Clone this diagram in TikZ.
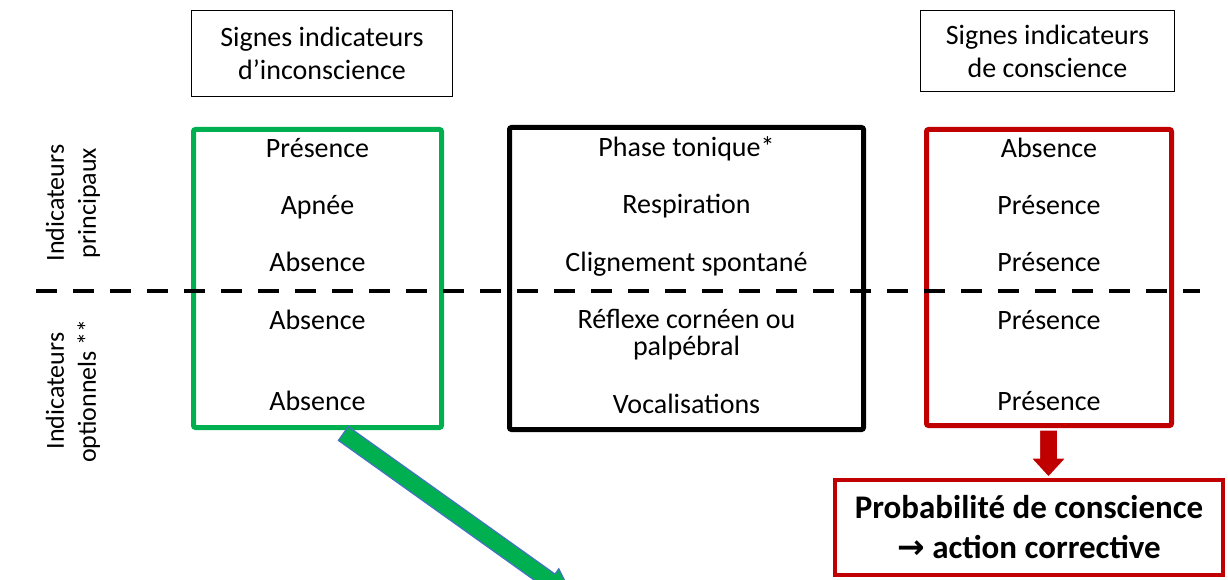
\documentclass[tikz,border=0pt]{standalone}
\usepackage{fontspec}
\setmainfont{Carlito}
\newfontfamily\arrowFont{DejaVu Sans}
\usetikzlibrary{calc}
\definecolor{consGreen}{RGB}{0,176,80}
\definecolor{consRed}{RGB}{192,0,0}
\definecolor{arrowEdge}{RGB}{68,114,196}
\newcommand{\cellFont}{\fontsize{28}{33}\selectfont}
\newcommand{\sideFont}{\fontsize{26}{32}\selectfont}
\newcommand{\resultFont}{\fontsize{33}{40}\selectfont\bfseries}
\newcommand{\boxMid}{278.5}
\newcommand{\shaftHalf}{9}
\tikzset{
  cell/.style={font=\cellFont, text height=20pt, text depth=6pt, inner sep=0pt, align=center},
  headbox/.style={draw, line width=1.3pt, font=\cellFont, align=center, inner sep=0pt},
  signbox/.style={draw, line width=5pt, rounded corners=2pt, inner sep=0pt},
  sidelabel/.style={font=\sideFont, align=center, rotate=90, inner sep=0pt}
}
\begin{document}
\begin{tikzpicture}[x=1pt, y=-1pt]
\useasboundingbox (0,0) rectangle (1228,580);
% header boxes
\node (headLeft) [headbox, minimum width=261, minimum height=86] at (322,53.5) {Signes indicateurs\\d’inconscience};
\node (headRight) [headbox, minimum width=254, minimum height=81] at (1047.5,51) {Signes indicateurs\\de conscience};
% three columns
\node (greenBox) [signbox, draw=consGreen, minimum width=248, minimum height=298] at (317.5,\boxMid) {};
\node (blackBox) [signbox, draw=black, minimum width=354, minimum height=302] at (686.5,\boxMid) {};
\node (redBox) [signbox, draw=consRed, minimum width=245, minimum height=296] at (1049,277.5) {};
% side labels
\node (mainLabel) [sidelabel] at (73,203) {Indicateurs\\principaux};
\node (optLabel) [sidelabel] at (73,391) {Indicateurs\\optionnels **};
% separator
\coordinate (dashStart) at (36,291);
\coordinate (dashEnd) at (1200,291);
\draw [line width=4.5pt, dash pattern=on 21pt off 16pt] (dashStart) -- (dashEnd);
% unconscious column
\node (gPresence) [cell] at (317.5,150.5) {Présence};
\node (gApnee) [cell] at (317.5,207.5) {Apnée};
\node (gAbsA) [cell] at (317.5,264.5) {Absence};
\node (gAbsB) [cell] at (317.5,322.5) {Absence};
\node (gAbsC) [cell] at (317.5,403.5) {Absence};
% indicator column
\node (bPhase) [cell] at (686.5,150) {Phase tonique*};
\node (bResp) [cell] at (686.5,207) {Respiration};
\node (bBlink) [cell] at (686.5,264) {Clignement spontané};
\node (bReflex) [font=\fontsize{28}{27}\selectfont, align=center, inner sep=0pt] at (686.5,335) {Réflexe cornéen ou\\palpébral};
\node (bVocal) [cell] at (686.5,406) {Vocalisations};
% conscious column
\node (rAbsence) [cell] at (1049,150.5) {Absence};
\node (rPresA) [cell] at (1049,207.5) {Présence};
\node (rPresB) [cell] at (1049,264.5) {Présence};
\node (rPresC) [cell] at (1049,322.5) {Présence};
\node (rPresD) [cell] at (1049,403.5) {Présence};
% result
\node (resultBox) [draw=consRed, line width=4pt, font=\resultFont, align=center, inner sep=0pt,
      minimum width=388, minimum height=95] at (1029,527.5) {Probabilité de conscience\\{\arrowFont →} action corrective};
% red arrow
\begin{scope}[shift={($(redBox.south)+(-0.5,2)$)}]
  \draw [fill=consRed, draw=white, line width=1pt]
    (-\shaftHalf,0) -- (\shaftHalf,0) -- (\shaftHalf,28) -- (17.5,28) -- (0,47) -- (-17.5,28) -- (-\shaftHalf,28) -- cycle;
\end{scope}
% green arrow
\coordinate (greenStart) at ($(greenBox.south west)!0.6!(greenBox.south east)$);
\begin{scope}
  \clip (0,0) rectangle (1228,580);
  \begin{scope}[shift={($(greenStart)+(0.5,3.5)$)}, rotate=-35.5]
    \draw [fill=consGreen, draw=arrowEdge, line width=1.2pt]
      (0,-8.5) -- (254,-8.5) -- (254,-15) -- (282,0) -- (254,15) -- (254,8.5) -- (0,8.5) -- cycle;
  \end{scope}
\end{scope}
\end{tikzpicture}
\end{document}
